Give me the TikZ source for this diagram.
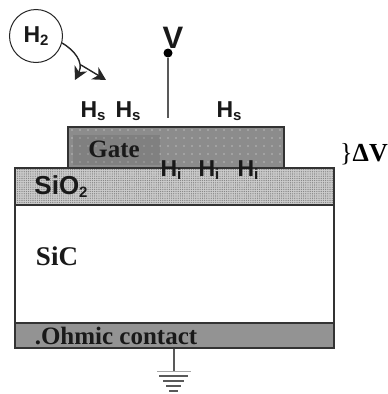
\documentclass[tikz,border=0pt]{standalone}
\usepackage{fontspec}
\setmainfont{Liberation Serif}
\setsansfont{Liberation Sans}
\usetikzlibrary{arrows.meta,patterns}

\pgfdeclarepatternformonly{gatedots}{\pgfqpoint{-1pt}{-1pt}}{\pgfqpoint{1pt}{1pt}}{\pgfqpoint{8pt}{8pt}}{
\pgfpathcircle{\pgfqpoint{0pt}{0pt}}{0.65pt}\pgfusepath{fill}}
\pgfdeclarepatternformonly{oxidedots}{\pgfqpoint{-1pt}{-1pt}}{\pgfqpoint{1pt}{1pt}}{\pgfqpoint{2.2pt}{2.2pt}}{
\pgfpathcircle{\pgfqpoint{0pt}{0pt}}{0.65pt}\pgfusepath{fill}}
\newcommand{\lowtxt}[1]{\raisebox{-3pt}{\fontsize{15}{15}\selectfont #1}}

\begin{document}
\begin{tikzpicture}[x=1pt,y=-1pt]
\tikzstyle{layer} = [rectangle, draw=black!80, line width=1.2pt, inner sep=0pt, minimum width=319pt]
\tikzstyle{oxide} = [layer, minimum height=37pt, preaction={fill=gray!40}, pattern=oxidedots, pattern color=black!50]
\tikzstyle{gate} = [rectangle, draw=black!80, line width=1.2pt, inner sep=0pt, minimum width=216pt, minimum height=41pt,
preaction={fill=gray!90}, pattern=gatedots, pattern color=white!85!gray]
\tikzstyle{patch} = [rectangle, inner sep=0pt, minimum width=87pt, minimum height=30pt,
preaction={fill=gray!100}, pattern=gatedots, pattern color=white!60!gray]
\tikzstyle{bulk} = [layer, minimum height=118pt, fill=white]
\tikzstyle{ohmic} = [layer, minimum height=25pt, fill=gray!85]
\tikzstyle{sans} = [inner sep=0pt, font=\sffamily\bfseries\fontsize{23}{23}\selectfont, text=black!90]
\tikzstyle{serif} = [inner sep=0pt, font=\rmfamily\bfseries\fontsize{25}{25}\selectfont, text=black!90]
\tikzstyle{wire} = [draw=black!65, line width=1.2pt]
\tikzstyle{flow} = [draw=black!85, line width=1.4pt, -{Stealth[length=13pt,width=14pt,inset=4pt]}]
\useasboundingbox (0,0) rectangle (388,394);
% layers
\node [bulk] (sic) at (174.5,264) {};
\node [oxide] (oxide) at (174.5,186.5) {};
\node [gate] (metal) at (176,147.5) {};
\node [patch] (patch) at (116.5,150) {};
\node [ohmic] (contact) at (174.5,335.5) {};
% labels
\node [serif] (gatelabel) at (114,149) {Gate};
\node [sans, font=\sffamily\bfseries\fontsize{26}{26}\selectfont] (sio) at (61,187) {SiO\lowtxt{2}};
\node [serif, font=\rmfamily\bfseries\fontsize{27}{27}\selectfont] (siclabel) at (57,256) {SiC};
\node [serif] (ohmiclabel) at (116,336) {.Ohmic contact};
\node [sans] (hsa) at (93,111) {H\lowtxt{s}};
\node [sans] (hsb) at (128,111) {H\lowtxt{s}};
\node [sans] (hsc) at (229,111) {H\lowtxt{s}};
\node [sans] (hia) at (171,170) {H\lowtxt{i}};
\node [sans] (hib) at (209,170) {H\lowtxt{i}};
\node [sans] (hic) at (248,170) {H\lowtxt{i}};
\node [inner sep=0pt, font=\rmfamily\fontsize{26}{26}\selectfont] (dv) at (364,154) {\}\textbf{ΔV}};
% hydrogen
\node [circle, draw=black!85, line width=1pt, minimum size=53pt, inner sep=0pt, sans] (htwo) at (36,36) {H\lowtxt{2}};
\coordinate (tipa) at (75,80);
\coordinate (tipb) at (106,80);
\coordinate (fork) at (81,65);
\path [flow] (htwo.-15) .. controls (74,50) and (84,62) .. (tipa);
\path [flow] (fork) -- (tipb);
% gate contact
\node [sans, font=\sffamily\bfseries\fontsize{31}{31}\selectfont] (vlabel) at (173,38) {V};
\node [circle, fill=black, inner sep=0pt, minimum size=9pt] (vdot) at (168,53) {};
\coordinate (vend) at (168,118);
\path [wire] (vdot) -- (vend);
% ground
\coordinate (gnd) at (174,371);
\path [wire] (contact.south -| gnd) -- (gnd);
\coordinate (ga) at (157,371); \coordinate (gb) at (191,371);
\coordinate (gc) at (159,376); \coordinate (gd) at (188,376);
\coordinate (ge) at (163,381); \coordinate (gf) at (184,381);
\coordinate (gg) at (166,386); \coordinate (gh) at (181,386);
\coordinate (gi) at (169,391); \coordinate (gj) at (178,391);
\path [draw=black!35, line width=1pt] (ga) -- (gb);
\path [wire] (gc) -- (gd);
\path [wire] (ge) -- (gf);
\path [wire] (gg) -- (gh);
\path [wire] (gi) -- (gj);
\end{tikzpicture}
\end{document}
